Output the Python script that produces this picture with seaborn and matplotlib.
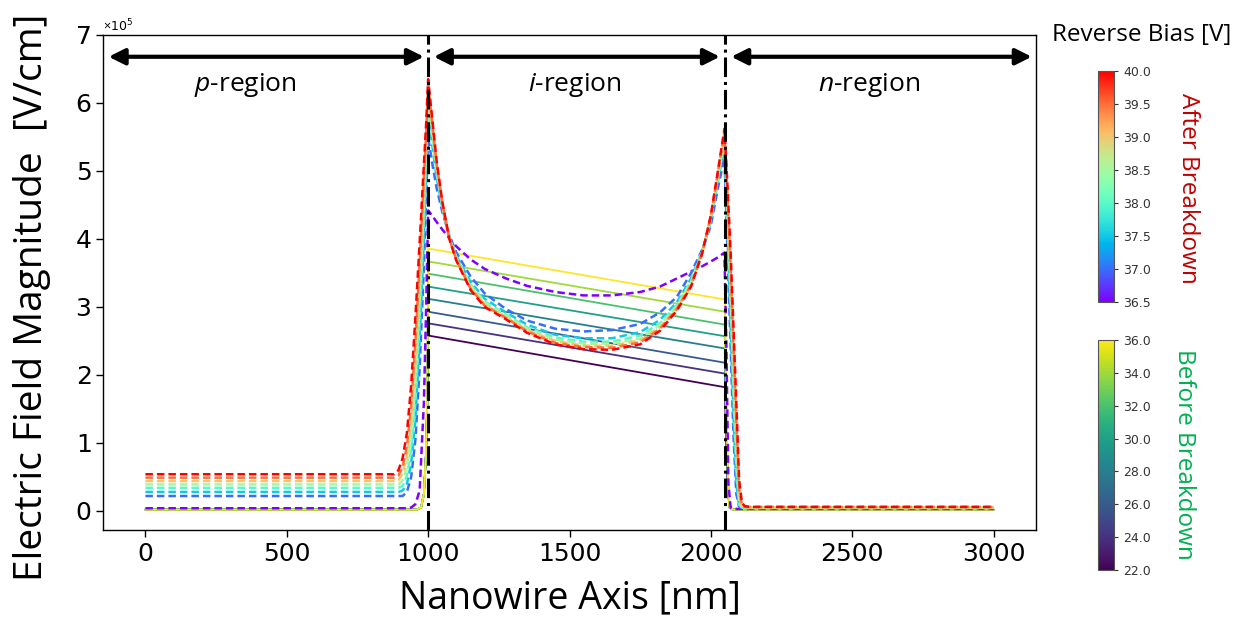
import numpy as np
import pandas as pd
import matplotlib
matplotlib.use("Agg")
import matplotlib.pyplot as plt
import seaborn as sns
from matplotlib import cm, colors
from matplotlib.ticker import ScalarFormatter

# ---------------- data (field magnitude in units of 1e5 V/cm) ----------------
# Before breakdown (solid lines, viridis)
bias_before = [22, 24, 26, 28, 30, 32, 34, 36]
x_before = [0, 960, 975, 985, 992, 997, 1000, 2050, 2053, 2057, 2061, 2066, 2080, 3000]
E_b22 = [0.02, 0.02, 0.05, 0.25, 0.8, 1.6, 2.58, 1.82, 1.20, 0.65, 0.27, 0.05, 0.02, 0.02]
E_b24 = [0.02, 0.02, 0.05, 0.25, 0.8, 1.6, 2.76, 2.02, 1.30, 0.70, 0.30, 0.05, 0.02, 0.02]
E_b26 = [0.02, 0.02, 0.05, 0.25, 0.8, 1.6, 2.93, 2.18, 1.40, 0.75, 0.32, 0.05, 0.02, 0.02]
E_b28 = [0.02, 0.02, 0.05, 0.25, 0.8, 1.6, 3.12, 2.39, 1.55, 0.85, 0.35, 0.05, 0.02, 0.02]
E_b30 = [0.02, 0.02, 0.05, 0.25, 0.8, 1.6, 3.30, 2.57, 1.70, 0.90, 0.38, 0.05, 0.02, 0.02]
E_b32 = [0.02, 0.02, 0.05, 0.25, 0.8, 1.6, 3.49, 2.74, 1.80, 0.95, 0.40, 0.05, 0.02, 0.02]
E_b34 = [0.02, 0.02, 0.05, 0.25, 0.8, 1.6, 3.67, 2.93, 1.90, 1.00, 0.42, 0.05, 0.02, 0.02]
E_b36 = [0.02, 0.02, 0.05, 0.25, 0.8, 1.6, 3.86, 3.11, 2.00, 1.10, 0.45, 0.05, 0.02, 0.02]
E_before = [E_b22, E_b24, E_b26, E_b28, E_b30, E_b32, E_b34, E_b36]

# After breakdown (dashed lines, rainbow)
bias_after = [36.5, 37.0, 37.5, 38.0, 38.5, 39.0, 39.5, 40.0]
x_after = [0, 880, 895, 910, 925, 940, 955, 970, 985, 993,
           1000, 1015, 1030, 1050, 1075, 1100, 1150, 1200, 1275, 1350, 1450,
           1550, 1650, 1750, 1820, 1880, 1930, 1970, 2000, 2025, 2048,
           2055, 2062, 2070, 2080, 2090, 2100, 2110, 2120, 2140, 3000]
E_a365 = [0.04, 0.04, 0.04, 0.04, 0.04, 0.05, 0.10, 0.30, 1.60, 3.00,
          4.42, 4.34, 4.25, 4.14, 4.01, 3.89, 3.70, 3.56, 3.42, 3.31, 3.22,
          3.17, 3.17, 3.22, 3.30, 3.42, 3.52, 3.60, 3.67, 3.73, 3.80,
          2.40, 0.40, 0.05, 0.03, 0.03, 0.03, 0.03, 0.03, 0.03, 0.03]
E_a370 = [0.22, 0.22, 0.22, 0.22, 0.28, 0.50, 1.05, 2.10, 3.60, 4.60,
          5.50, 5.10, 4.75, 4.40, 4.05, 3.80, 3.45, 3.20, 2.97, 2.80, 2.68,
          2.64, 2.66, 2.75, 2.92, 3.15, 3.50, 3.85, 4.20, 4.75, 5.20,
          4.30, 3.40, 2.40, 1.10, 0.25, 0.06, 0.04, 0.04, 0.04, 0.04]
E_a375 = [0.28, 0.28, 0.28, 0.30, 0.40, 0.70, 1.35, 2.50, 4.00, 5.00,
          5.84, 5.36, 4.91, 4.46, 4.03, 3.75, 3.37, 3.12, 2.92, 2.74, 2.59,
          2.54, 2.54, 2.63, 2.81, 3.07, 3.42, 3.83, 4.26, 4.85, 5.37,
          4.55, 3.70, 2.70, 1.40, 0.40, 0.06, 0.05, 0.04, 0.04, 0.04]
E_a380 = [0.34, 0.34, 0.34, 0.37, 0.52, 0.90, 1.65, 2.85, 4.30, 5.20,
          5.99, 5.48, 4.98, 4.49, 4.02, 3.73, 3.33, 3.08, 2.89, 2.70, 2.55,
          2.49, 2.49, 2.58, 2.76, 3.03, 3.38, 3.82, 4.29, 4.90, 5.44,
          4.70, 3.90, 3.00, 1.70, 0.60, 0.09, 0.05, 0.05, 0.05, 0.05]
E_a385 = [0.39, 0.39, 0.39, 0.45, 0.65, 1.10, 1.90, 3.10, 4.50, 5.35,
          6.10, 5.56, 5.03, 4.51, 4.02, 3.72, 3.31, 3.06, 2.87, 2.68, 2.52,
          2.46, 2.46, 2.54, 2.73, 3.01, 3.36, 3.82, 4.31, 4.93, 5.49,
          4.80, 4.05, 3.20, 1.95, 0.85, 0.14, 0.06, 0.05, 0.05, 0.05]
E_a390 = [0.44, 0.44, 0.45, 0.55, 0.80, 1.30, 2.20, 3.40, 4.70, 5.45,
          6.18, 5.62, 5.07, 4.52, 4.01, 3.70, 3.29, 3.04, 2.85, 2.66, 2.50,
          2.43, 2.43, 2.51, 2.70, 2.99, 3.34, 3.81, 4.32, 4.95, 5.54,
          4.90, 4.20, 3.40, 2.20, 1.10, 0.22, 0.07, 0.05, 0.05, 0.05]
E_a395 = [0.49, 0.49, 0.52, 0.65, 0.95, 1.55, 2.50, 3.65, 4.90, 5.55,
          6.27, 5.69, 5.11, 4.54, 4.00, 3.69, 3.27, 3.02, 2.84, 2.64, 2.47,
          2.41, 2.40, 2.48, 2.68, 2.97, 3.32, 3.80, 4.34, 4.98, 5.58,
          5.00, 4.35, 3.60, 2.45, 1.35, 0.32, 0.08, 0.06, 0.06, 0.06]
E_a400 = [0.54, 0.54, 0.60, 0.78, 1.15, 1.85, 2.85, 3.95, 5.10, 5.70,
          6.35, 5.75, 5.15, 4.55, 4.00, 3.68, 3.25, 3.00, 2.82, 2.62, 2.45,
          2.38, 2.37, 2.45, 2.65, 2.95, 3.30, 3.80, 4.35, 5.00, 5.62,
          5.10, 4.50, 3.80, 2.70, 1.60, 0.45, 0.12, 0.07, 0.06, 0.06]
E_after = [E_a365, E_a370, E_a375, E_a380, E_a385, E_a390, E_a395, E_a400]

region_labels = ["$p$-region", "$i$-region", "$n$-region"]
region_x = [355, 1520, 2560]
boundaries = [1000, 2050]
x_ticks = [0, 500, 1000, 1500, 2000, 2500, 3000]
scale = 1e5

# ---------------- long tables ----------------
df_b = pd.DataFrame([(v, x, y * scale) for v, ys in zip(bias_before, E_before)
                     for x, y in zip(x_before, ys)], columns=["V", "x", "E"])
df_a = pd.DataFrame([(v, x, y * scale) for v, ys in zip(bias_after, E_after)
                     for x, y in zip(x_after, ys)], columns=["V", "x", "E"])

norm_b = colors.Normalize(22, 36)
norm_a = colors.Normalize(36.5, 40)
cmap_b = plt.get_cmap("viridis")
cmap_a = plt.get_cmap("rainbow")
pal_b = {v: cmap_b(norm_b(v)) for v in bias_before}
pal_a = {v: cmap_a(norm_a(v)) for v in bias_after}

# ---------------- style ----------------
sns.set_theme(style="ticks")
plt.rcParams["font.family"] = ["DejaVu Sans"]
plt.rcParams["mathtext.fontset"] = "custom"
plt.rcParams["mathtext.rm"] = "Open Sans"
plt.rcParams["mathtext.it"] = "Open Sans:italic"
for key in ["text.color", "axes.labelcolor", "xtick.color", "ytick.color",
            "axes.edgecolor"]:
    plt.rcParams[key] = "black"

fig = plt.figure(figsize=(12.5, 6.22), dpi=100)
ax = fig.add_axes([103 / 1250, 1 - 530 / 622, 933 / 1250, 495 / 622])

sns.lineplot(data=df_b, x="x", y="E", hue="V", palette=pal_b, estimator=None,
             sort=False, legend=False, linewidth=1.3, ax=ax)
sns.lineplot(data=df_a, x="x", y="E", hue="V", palette=pal_a, estimator=None,
             sort=False, legend=False, linewidth=1.8, ax=ax)
for ln in ax.lines[len(bias_before):]:
    ln.set_linestyle((0, (3.0, 1.6)))

for b in boundaries:
    ax.axvline(b, color="black", linestyle="-.", linewidth=2.2, zorder=5)

arrow_y = 6.68 * scale
arrow_spans = [(-130, 985), (1020, 2032), (2072, 3135)]
for x0, x1 in arrow_spans:
    ax.annotate("", xy=(x1, arrow_y), xytext=(x0, arrow_y),
                arrowprops=dict(arrowstyle="<|-|>", color="black", lw=3,
                                mutation_scale=24, shrinkA=0, shrinkB=0))
for lab, xp in zip(region_labels, region_x):
    ax.text(xp, 6.26 * scale, lab, ha="center", va="center", fontsize=19,
            family="Open Sans")

ax.set_xlim(-150, 3150)
ax.set_ylim(-0.28 * scale, 7 * scale)
ax.set_xticks(x_ticks)
ax.set_yticks(np.arange(0, 8) * scale)
fmt = ScalarFormatter(useMathText=True)
fmt.set_powerlimits((0, 0))
ax.yaxis.set_major_formatter(fmt)
ax.yaxis.get_offset_text().set_fontsize(9)
ax.tick_params(labelsize=18, length=5, width=1, color="black", labelcolor="black")
for s in ax.spines.values():
    s.set_color("black")
    s.set_linewidth(1)

ax.set_xlabel("Nanowire Axis [nm]", fontsize=27, family="Open Sans", labelpad=10)
ax.set_ylabel("Electric Field Magnitude  [V/cm]", fontsize=28, family="Open Sans")
ax.yaxis.set_label_coords(-0.056, 0.47)

# ---------------- colorbars ----------------
cax1 = fig.add_axes([1098 / 1250, 1 - 302 / 622, 16 / 1250, 231 / 622])
cb1 = fig.colorbar(cm.ScalarMappable(norm=norm_a, cmap=cmap_a), cax=cax1,
                   ticks=np.arange(36.5, 40.01, 0.5), format="%.1f")
cax2 = fig.add_axes([1098 / 1250, 1 - 570 / 622, 16 / 1250, 230 / 622])
cb2 = fig.colorbar(cm.ScalarMappable(norm=norm_b, cmap=cmap_b), cax=cax2,
                   ticks=np.arange(22, 36.01, 2), format="%.1f")
for cb in (cb1, cb2):
    cb.ax.tick_params(labelsize=9, length=3, width=0.8, colors="#333333")
    cb.outline.set_edgecolor("#555555")
    cb.outline.set_linewidth(0.8)

fig.text(1142 / 1250, 1 - 35 / 622, "Reverse Bias [V]", ha="center", va="center",
         fontsize=17.5, family="Open Sans", color="black")
fig.text(1188 / 1250, 1 - 188 / 622, "After Breakdown", rotation=270, ha="center",
         va="center", fontsize=17.5, color="#C00000", family="Open Sans")
fig.text(1184 / 1250, 1 - 454 / 622, "Before Breakdown", rotation=270, ha="center",
         va="center", fontsize=17.5, color="#00B050", family="Open Sans")

fig.savefig("out.png", dpi=100, facecolor="white")
